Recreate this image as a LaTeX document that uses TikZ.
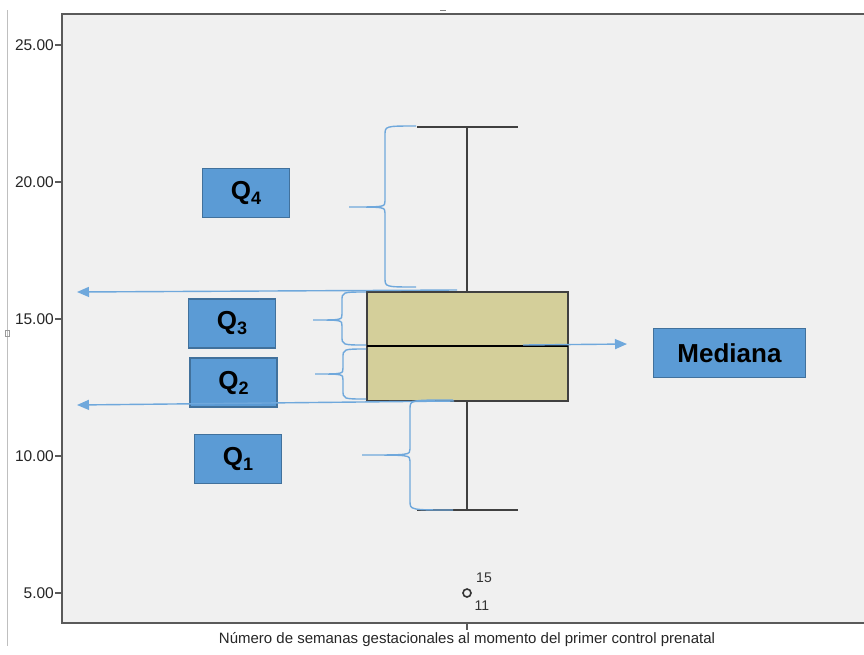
\documentclass[tikz,border=0pt]{standalone}
\usepackage{fontspec}
\setmainfont{Liberation Sans}
\usetikzlibrary{arrows.meta}
\definecolor{plotbg}{HTML}{F0F0F0}
\definecolor{axisgray}{HTML}{5A5A5A}
\definecolor{boxfill}{HTML}{D4CF9A}
\definecolor{qfill}{HTML}{5B9BD5}
\definecolor{qedge}{HTML}{41719C}
\definecolor{bracecol}{HTML}{6FA8DC}
\tikzset{
  qlabel/.style={draw=qedge, line width=1.2pt, fill=qfill, inner sep=0pt,
    font=\fontsize{26}{28}\selectfont\bfseries},
  ticklab/.style={anchor=east, font=\fontsize{15.5}{17}\selectfont, text=black!85, inner sep=1pt},
  bracestyle/.style={draw=bracecol, line width=1.4pt},
  pointer/.style={draw=bracecol, line width=1.4pt, -{Triangle[length=12pt,width=10pt]}},
}
% quartile symbol with a large lowered index
\newcommand\quart[1]{Q\raisebox{-5pt}{\fontsize{18}{20}\selectfont #1}}
% left-facing curly brace: end x, spine x, tip x, top y, tip y, bottom y
\newcommand\quartbrace[6]{%
  \draw[bracestyle] (#1,#4) .. controls (#2,#4) .. (#2,#4+9)
    -- (#2,#5-6) .. controls (#2,#5) .. (#3,#5)
    .. controls (#2,#5) .. (#2,#5+6)
    -- (#2,#6-9) .. controls (#2,#6) .. (#1,#6);}
\begin{document}
\begin{tikzpicture}[x=1pt, y=-1pt]
  \useasboundingbox (0,0) rectangle (864,654);
  \fill[white] (0,0) rectangle (864,654);
  % outer frame remnants
  \draw[black!25, line width=0.8pt] (7,10) -- (7,646);
  \draw[black!40, line width=0.6pt] (5,330) rectangle (9,336);
  \draw[black!50, line width=0.8pt] (440,10) -- (446,10);
  % plot area
  \fill[plotbg] (62,14) rectangle (864,623);
  \draw[axisgray, line width=2pt] (864,14) -- (62,14) -- (62,623) -- (864,623);
  % y axis ticks
  \foreach \v/\y in {25.00/45, 20.00/182, 15.00/319, 10.00/456, 5.00/593} {
    \draw[axisgray, line width=1.5pt] (55,\y) -- (62,\y);
    \node[ticklab] at (55,\y) {\v};
  }
  % x axis tick and title
  \draw[axisgray, line width=1.5pt] (467,623) -- (467,630);
  \node[font=\fontsize{15}{17}\selectfont, text=black!85] (xtitle) at (467,640)
    {Número de semanas gestacionales al momento del primer control prenatal};
  % box plot
  \draw[black!75, line width=1.6pt] (467,127) -- (467,292);
  \draw[black!75, line width=1.6pt] (467,401) -- (467,510);
  \draw[black!75, line width=1.6pt] (417,127) -- (518,127);
  \draw[black!75, line width=1.6pt] (417,510) -- (518,510);
  \draw[fill=boxfill, draw=black!75, line width=1.3pt] (367,292) rectangle (568,401);
  \draw[black, line width=2pt] (367,346) -- (568,346);
  % outlier
  \draw[black!80, line width=1.6pt] (467,593) circle (4);
  \node[font=\fontsize{14}{16}\selectfont, text=black!80] (o15) at (484,578) {15};
  \node[font=\fontsize{14}{16}\selectfont, text=black!80] (o11) at (482,606) {11};
  % quartile labels
  \node[qlabel, minimum width=87pt, minimum height=49pt] (q4) at (246,193) {\quart{4}};
  \node[qlabel, minimum width=87pt, minimum height=49pt] (q3) at (232,323.5) {\quart{3}};
  \node[qlabel, minimum width=87pt, minimum height=49pt] (q2) at (233.5,382.5) {\quart{2}};
  \node[qlabel, minimum width=87pt, minimum height=49pt] (q1) at (238,459) {\quart{1}};
  \node[qlabel, minimum width=152pt, minimum height=49pt] (med) at (729.5,353) {Mediana};
  % braces
  \quartbrace{416}{385}{349}{126}{207}{287}
  \quartbrace{366}{342}{313}{292}{320}{345}
  \quartbrace{366}{343}{315}{349}{374}{399}
  \quartbrace{453}{410}{362}{400}{455}{510}
  % pointers
  \coordinate (up0) at (457,290);
  \coordinate (up1) at (77,292);
  \coordinate (lo0) at (454,401);
  \coordinate (lo1) at (77,405);
  \coordinate (md0) at (523,345);
  \coordinate (md1) at (627,344);
  \draw[pointer] (up0) -- (up1);
  \draw[pointer] (lo0) -- (lo1);
  \draw[pointer] (md0) -- (md1);
\end{tikzpicture}
\end{document}
